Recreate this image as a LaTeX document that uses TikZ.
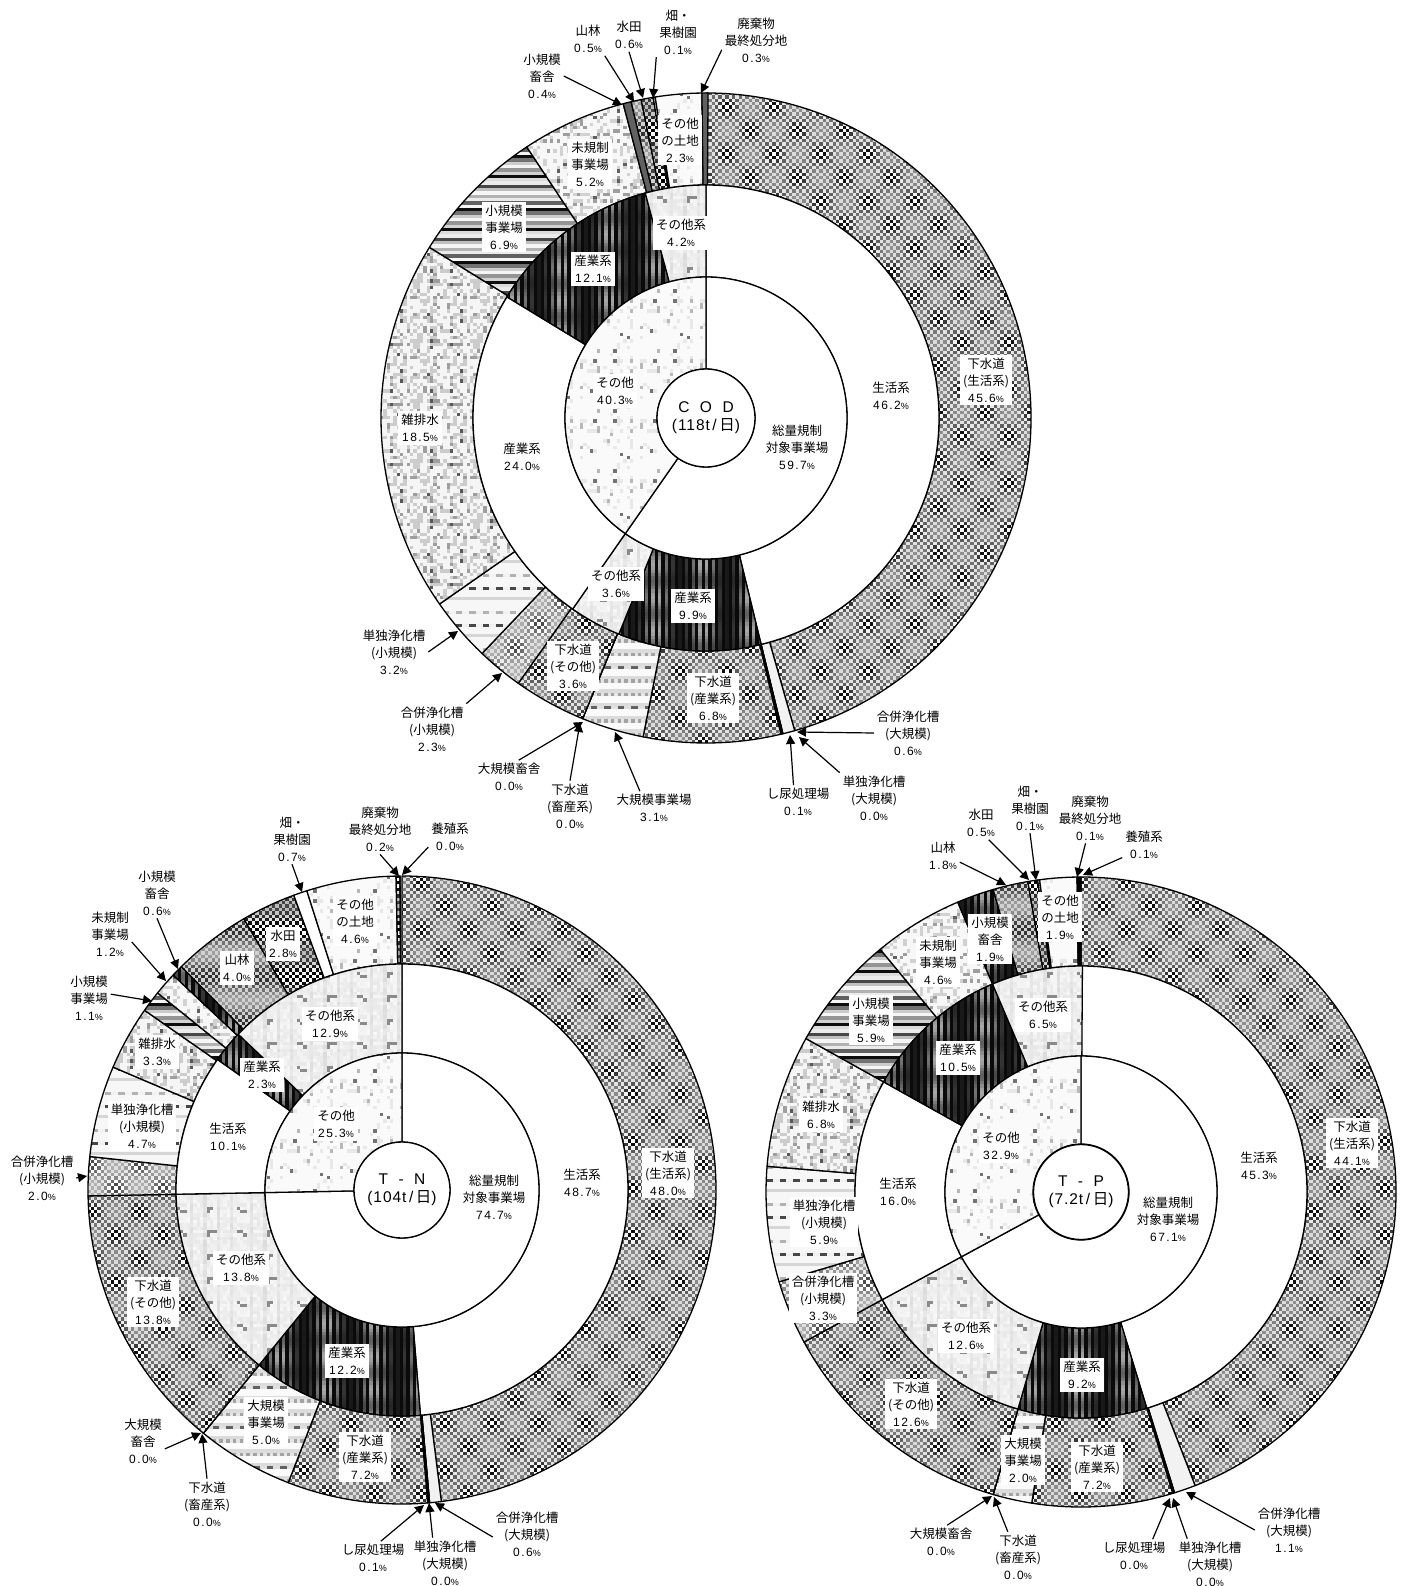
\documentclass[tikz,border=0pt]{standalone}
\usepackage{fontspec}
\setmainfont{Noto Sans CJK JP}
\newfontfamily\numfont[LetterSpace=12]{Liberation Sans}
\newfontfamily\hubfont[LetterSpace=6]{Liberation Sans}
\usetikzlibrary{patterns,arrows.meta}

\newcommand{\pc}[1]{{\numfont\fontsize{12}{17}\selectfont #1{\fontsize{9}{9}\selectfont\%}}}

% one tile of grey cells, overlapping its neighbours a little; #4 sets \g from \col and \row
\newcommand{\celltile}[4]{
  \pgfdeclarepatterninherentlycolored{#1}{\pgfpointorigin}{\pgfpoint{round(#2*3.33)*1pt+.8pt}{round(#3*3.33)*1pt+.8pt}}{\pgfpoint{round(#2*3.33)*1pt}{round(#3*3.33)*1pt}}{
    \pgfmathsetmacro{\cw}{round(#2*3.33)/#2}
    \pgfmathsetmacro{\ch}{round(#3*3.33)/#3}
    \foreach \col in {1,...,#2} {
      \foreach \row in {1,...,#3} {
        #4
        \pgfsetfillcolor{black!\g}
        \pgfpathrectangle{\pgfpoint{(\col-1)*\cw*1pt}{(\row-1)*\ch*1pt}}{\pgfpoint{\cw*1pt+.8pt}{\ch*1pt+.8pt}}
        \pgfusepath{fill}
      }
    }
  }
}
\celltile{plainw}{2}{2}{\def\g{0}}
\celltile{plainb}{2}{2}{\def\g{100}}
\celltile{plainm}{2}{2}{\def\g{62}}
\celltile{plainp}{2}{2}{\def\g{5}}
% checks with staggered dark blots
\celltile{sewer}{14}{14}{
  \pgfmathsetmacro{\cc}{.5+.5*cos(360*\col/14)*cos(360*\row/14)}
  \pgfmathsetmacro{\g}{29+21*\cc*\cc+(mod(\col+\row,2)*2-1)*(15+35*\cc*\cc)}
}
\celltile{checklt}{14}{14}{
  \pgfmathsetmacro{\cc}{.5+.5*cos(360*\col/14)*cos(360*\row/14)}
  \pgfmathsetmacro{\g}{22+12*\cc*\cc+(mod(\col+\row,2)*2-1)*(9+32*\cc*\cc)}
}
\celltile{checkhi}{14}{14}{
  \pgfmathsetmacro{\cc}{.5+.5*cos(360*\row/14)}
  \pgfmathsetmacro{\g}{50+(mod(\col+\row,2)*2-1)*(22+28*\cc)}
}
\celltile{checkgr}{14}{14}{
  \pgfmathsetmacro{\cc}{.5+.5*cos(360*\row/14)}
  \pgfmathsetmacro{\g}{28+22*\cc+(mod(\col+\row,2)*2-1)*(10+22*\cc)}
}
% dark upright bars
\celltile{indust}{14}{10}{
  \pgfmathsetmacro{\cc}{(.5+.5*cos(360*\col/14))*(.75+.25*cos(360*\row/10))}
  \pgfmathsetmacro{\g}{mod(\col,2)==0 ? 96 : 90-58*\cc}
}
% level bands
\celltile{hstripes}{2}{16}{
  \pgfmathsetmacro{\g}{{95,4,62,8,30,4,25,72,8,14,95,18,42,4,20,55}[mod(\row,16)]}
}
\celltile{bigdash}{8}{12}{
  \pgfmathsetmacro{\g}{mod(\row,12)==0 ? (mod(\col,4)<2 ? 62 : 12) : (mod(\row,4)==0 ? (mod(\col,2)==0 ? 36 : 10) : (mod(\row,4)==1 ? 14 : 2))}
}
\celltile{rowdash}{8}{11}{
  \pgfmathsetmacro{\g}{mod(\row,11)==0 ? (mod(\col,4)<2 ? 72 : 6) : (mod(\row,11)==4 ? (mod(\col,4)<2 ? 30 : 5) : (mod(\row,11)==8 ? 16 : 3))}
}
% seeded speckle
\celltile{speckle}{18}{18}{
  \pgfmathsetmacro{\rr}{rnd}
  \pgfmathsetmacro{\g}{\rr<.55 ? 4 : (\rr<.85 ? 20 : (\rr<.97 ? 38 : 65))}
}
\celltile{specklelt}{18}{18}{
  \pgfmathsetmacro{\rr}{rnd}
  \pgfmathsetmacro{\g}{\rr<.7 ? 3 : (\rr<.9 ? 18 : (\rr<.98 ? 38 : 62))}
}
\celltile{pale}{18}{18}{
  \pgfmathsetmacro{\rr}{rnd}
  \pgfmathsetmacro{\g}{\rr<.86 ? 2 : (\rr<.96 ? 9 : (\rr<.99 ? 28 : 55))}
}
\celltile{blocky}{18}{14}{
  \pgfmathsetmacro{\rr}{rnd}
  \pgfmathsetmacro{\g}{(mod(\col,9)<3 && mod(\row,7)<2 && \rr>.4) ? 46 : (mod(\col,4)==0 ? 8 : 3)+6*\rr}
}

\tikzset{
  slice/.style={draw=black,line width=1.3pt,line join=round},
  ringbox/.style={fill=white,align=center,inner sep=3pt,font=\fontsize{12.5}{17}\selectfont},
  outbox/.style={align=center,inner sep=0pt,outer sep=3pt,font=\fontsize{12.5}{17}\selectfont},
  hubbox/.style={circle,draw=black,line width=1.3pt,fill=white,align=center,inner sep=0pt,font=\fontsize{15.5}{18}\selectfont},
  leadline/.style={line width=1.2pt,-{Triangle[length=9pt,width=9pt]}}
}

% outer radius, inner radius, list of share/pattern, clockwise from the top
\newcommand{\slices}[3]{
  \gdef\cum{0}
  \foreach \val/\pat in {#3} {
    \pgfmathsetmacro{\aone}{90-3.6*\cum}
    \pgfmathsetmacro{\atwo}{90-3.6*(\cum+\val)}
    \draw[slice,pattern=\pat] (\aone:#2pt) -- (\aone:#1pt) arc[start angle=\aone,end angle=\atwo,radius=#1pt] -- (\atwo:#2pt) arc[start angle=\atwo,end angle=\aone,radius=#2pt] -- cycle;
    \pgfmathsetmacro{\cumnext}{\cum+\val}
    \global\let\cum=\cumnext
  }
}
\newcommand{\inlabel}[3]{\node[ringbox] (#1) at (#2) {#3};}
% name, position, text, anchor to leave from, tip
\newcommand{\callout}[5]{
  \node[outbox] (#1) at (#2) {#3};
  \coordinate (#1tip) at (#5);
  \draw[leadline] (#1.#4) -- (#1tip);
}

\begin{document}
\begin{tikzpicture}[x=1pt,y=1pt]
\useasboundingbox (0,0) rectangle (1410,-1586);

%COD
\begin{scope}[shift={(706,-418)}]
\slices{325}{233}{45.6/sewer,0.6/plainp,0.0/plainb,0.1/plainb,6.8/sewer,3.1/bigdash,0.0/plainb,0.0/plainb,3.6/sewer,2.3/checklt,3.2/rowdash,18.5/speckle,6.9/hstripes,5.2/specklelt,0.4/plainm,0.5/checkgr,0.6/checkhi,0.1/plainw,2.3/pale,0.3/plainm}
\slices{233}{141}{46.2/plainw,9.9/indust,3.6/blocky,24.0/plainw,12.1/indust,4.2/blocky}
\slices{141}{49}{59.7/plainw,40.3/pale}
\end{scope}
\node[hubbox,minimum size=98pt] (codhub) at (706,-418) {\hubfont C\ \ O\ \ D\\{\hubfont(118t\,/\,}日{\hubfont)}};

\inlabel{c1}{680,-140}{その他\\の土地\\\pc{2.3}}
\inlabel{c2}{590,-164}{未規制\\事業場\\\pc{5.2}}
\inlabel{c3}{504,-227}{小規模\\事業場\\\pc{6.9}}
\inlabel{c4}{420,-428}{雑排水\\\pc{18.5}}
\inlabel{c5}{681,-233}{その他系\\\pc{4.2}}
\inlabel{c6}{593,-269}{産業系\\\pc{12.1}}
\inlabel{c7}{522,-457}{産業系\\\pc{24.0}}
\inlabel{c8}{615,-391}{その他\\\pc{40.3}}
\inlabel{c9}{797,-447}{総量規制\\対象事業場\\\pc{59.7}}
\inlabel{c10}{891,-396}{生活系\\\pc{46.2}}
\inlabel{c11}{986,-380}{下水道\\(生活系)\\\pc{45.6}}
\inlabel{c12}{693,-606}{産業系\\\pc{9.9}}
\inlabel{c13}{616,-584}{その他系\\\pc{3.6}}
\inlabel{c14}{573,-666}{下水道\\(その他)\\\pc{3.6}}
\inlabel{c15}{713,-698}{下水道\\(産業系)\\\pc{6.8}}

\callout{ca}{542,-76}{小規模\\畜舎\\\pc{0.4}}{east}{622,-105}
\callout{cb}{588,-39}{山林\\\pc{0.5}}{south east}{634,-102}
\callout{cc}{629,-35}{水田\\\pc{0.6}}{south}{643,-98}
\callout{cd}{678,-32}{畑・\\果樹園\\\pc{0.1}}{south west}{653,-98}
\callout{ce}{756,-40}{廃棄物\\最終処分地\\\pc{0.3}}{196}{701,-93}
\callout{cf}{394,-652}{単独浄化槽\\(小規模)\\\pc{3.2}}{east}{458,-631}
\callout{cg}{432,-729}{合併浄化槽\\(小規模)\\\pc{2.3}}{north east}{502,-673}
\callout{ch}{509,-777}{大規模畜舎\\\pc{0.0}}{60}{583,-722}
\callout{ci}{570,-806}{下水道\\(畜産系)\\\pc{0.0}}{north}{580,-723}
\callout{cj}{654,-808}{大規模事業場\\\pc{3.1}}{130}{615,-732}
\callout{ck}{798,-802}{し尿処理場\\\pc{0.1}}{105}{790,-735}
\callout{cl}{874,-798}{単独浄化槽\\(大規模)\\\pc{0.0}}{north west}{799,-737}
\callout{cm}{908,-733}{合併浄化槽\\(大規模)\\\pc{0.6}}{west}{797,-732}

%T-N
\begin{scope}[shift={(402,-1190)}]
\slices{314}{226}{48.0/sewer,0.6/plainp,0.0/plainb,0.1/plainb,7.2/sewer,5.0/bigdash,0.0/plainb,0.0/plainb,13.8/sewer,2.0/checklt,4.7/rowdash,3.3/speckle,1.1/hstripes,1.2/specklelt,0.6/indust,4.0/checkgr,2.8/checkhi,0.7/plainw,4.6/pale,0.2/checkhi,0.0/plainb}
\slices{226}{137}{48.7/plainw,12.2/indust,13.8/blocky,10.1/plainw,2.3/indust,12.9/blocky}
\slices{137}{48}{74.7/plainw,25.3/pale}
\end{scope}
\node[hubbox,minimum size=96pt] (tnhub) at (402,-1190) {\hubfont T\ \ -\ \ N\\{\hubfont(104t\,/\,}日{\hubfont)}};

\inlabel{n1}{355,-921}{その他\\の土地\\\pc{4.6}}
\inlabel{n2}{283,-944}{水田\\\pc{2.8}}
\inlabel{n3}{237,-968}{山林\\\pc{4.0}}
\inlabel{n4}{157,-1052}{雑排水\\\pc{3.3}}
\inlabel{n5}{142,-1126}{単独浄化槽\\(小規模)\\\pc{4.7}}
\inlabel{n6}{330,-1024}{その他系\\\pc{12.9}}
\inlabel{n7}{262,-1075}{産業系\\\pc{2.3}}
\inlabel{n8}{228,-1137}{生活系\\\pc{10.1}}
\inlabel{n9}{336,-1124}{その他\\\pc{25.3}}
\inlabel{n10}{494,-1197}{総量規制\\対象事業場\\\pc{74.7}}
\inlabel{n11}{582,-1183}{生活系\\\pc{48.7}}
\inlabel{n12}{668,-1173}{下水道\\(生活系)\\\pc{48.0}}
\inlabel{n13}{241,-1268}{その他系\\\pc{13.8}}
\inlabel{n14}{153,-1302}{下水道\\(その他)\\\pc{13.8}}
\inlabel{n15}{347,-1361}{産業系\\\pc{12.2}}
\inlabel{n16}{266,-1422}{大規模\\事業場\\\pc{5.0}}
\inlabel{n17}{365,-1457}{下水道\\(産業系)\\\pc{7.2}}

\callout{na}{292,-839}{畑・\\果樹園\\\pc{0.7}}{south}{302,-892}
\callout{nb}{380,-829}{廃棄物\\最終処分地\\\pc{0.2}}{south}{399,-876}
\callout{nc}{450,-837}{養殖系\\\pc{0.0}}{205}{402,-875}
\callout{nd}{157,-893}{小規模\\畜舎\\\pc{0.6}}{south}{178,-969}
\callout{ne}{110,-934}{未規制\\事業場\\\pc{1.2}}{-20}{166,-981}
\callout{nf}{89,-998}{小規模\\事業場\\\pc{1.1}}{10}{152,-1001}
\callout{ng}{42,-1178}{合併浄化槽\\(小規模)\\\pc{2.0}}{east}{87,-1176}
\callout{nh}{143,-1441}{大規模\\畜舎\\\pc{0.0}}{-20}{201,-1433}
\callout{ni}{207,-1504}{下水道\\(畜産系)\\\pc{0.0}}{north}{202,-1434}
\callout{nj}{373,-1558}{し尿処理場\\\pc{0.1}}{65}{424,-1505}
\callout{nk}{445,-1563}{単独浄化槽\\(大規模)\\\pc{0.0}}{116}{429,-1503}
\callout{nl}{527,-1534}{合併浄化槽\\(大規模)\\\pc{0.6}}{185}{435,-1503}

%T-P
\begin{scope}[shift={(1081,-1192)}]
\slices{315}{226}{44.1/sewer,1.1/plainp,0.05/plainb,0.05/plainb,7.2/sewer,2.0/bigdash,0.0/plainb,0.0/plainb,12.6/sewer,3.3/checklt,5.9/rowdash,6.8/speckle,5.9/hstripes,4.6/specklelt,1.9/indust,1.8/checkgr,0.5/checkhi,0.1/plainw,1.9/pale,0.1/plainb,0.1/plainb}
\slices{226}{136}{45.3/plainw,9.2/indust,12.6/blocky,16.0/plainw,10.5/indust,6.5/blocky}
\slices{136}{48}{67.1/plainw,32.9/pale}
\end{scope}
\node[hubbox,minimum size=95pt] (tphub) at (1081,-1192) {\hubfont T\ \ -\ \ P\\{\hubfont(7.2t\,/\,}日{\hubfont)}};

\inlabel{p1}{1060,-917}{その他\\の土地\\\pc{1.9}}
\inlabel{p2}{990,-939}{小規模\\畜舎\\\pc{1.9}}
\inlabel{p3}{938,-962}{未規制\\事業場\\\pc{4.6}}
\inlabel{p4}{871,-1020}{小規模\\事業場\\\pc{5.9}}
\inlabel{p5}{1043,-1015}{その他系\\\pc{6.5}}
\inlabel{p6}{958,-1058}{産業系\\\pc{10.5}}
\inlabel{p7}{821,-1115}{雑排水\\\pc{6.8}}
\inlabel{p8}{1001,-1146}{その他\\\pc{32.9}}
\inlabel{p9}{898,-1192}{生活系\\\pc{16.0}}
\inlabel{p10}{1168,-1219}{総量規制\\対象事業場\\\pc{67.1}}
\inlabel{p11}{1259,-1166}{生活系\\\pc{45.3}}
\inlabel{p12}{1352,-1143}{下水道\\(生活系)\\\pc{44.1}}
\inlabel{p13}{824,-1222}{単独浄化槽\\(小規模)\\\pc{5.9}}
\inlabel{p14}{823,-1298}{合併浄化槽\\(小規模)\\\pc{3.3}}
\inlabel{p15}{966,-1336}{その他系\\\pc{12.6}}
\inlabel{p16}{911,-1404}{下水道\\(その他)\\\pc{12.6}}
\inlabel{p17}{1082,-1375}{産業系\\\pc{9.2}}
\inlabel{p18}{1023,-1460}{大規模\\事業場\\\pc{2.0}}
\inlabel{p19}{1097,-1467}{下水道\\(産業系)\\\pc{7.2}}

\callout{pa}{943,-856}{山林\\\pc{1.8}}{-20}{1006,-885}
\callout{pb}{981,-823}{水田\\\pc{0.5}}{-65}{1029,-880}
\callout{pc}{1030,-808}{畑・\\果樹園\\\pc{0.1}}{south}{1036,-880}
\callout{pd}{1090,-818}{廃棄物\\最終処分地\\\pc{0.1}}{-100}{1077,-877}
\callout{pe}{1144,-845}{養殖系\\\pc{0.1}}{210}{1083,-875}
\callout{pf}{941,-1542}{大規模畜舎\\\pc{0.0}}{70}{992,-1496}
\callout{pg}{1018,-1557}{下水道\\(畜産系)\\\pc{0.0}}{112}{994,-1497}
\callout{ph}{1134,-1556}{し尿処理場\\\pc{0.0}}{42}{1170,-1498}
\callout{pi}{1210,-1564}{単独浄化槽\\(大規模)\\\pc{0.0}}{132}{1173,-1498}
\callout{pj}{1289,-1530}{合併浄化槽\\(大規模)\\\pc{1.1}}{west}{1186,-1492}
\end{tikzpicture}
\end{document}
